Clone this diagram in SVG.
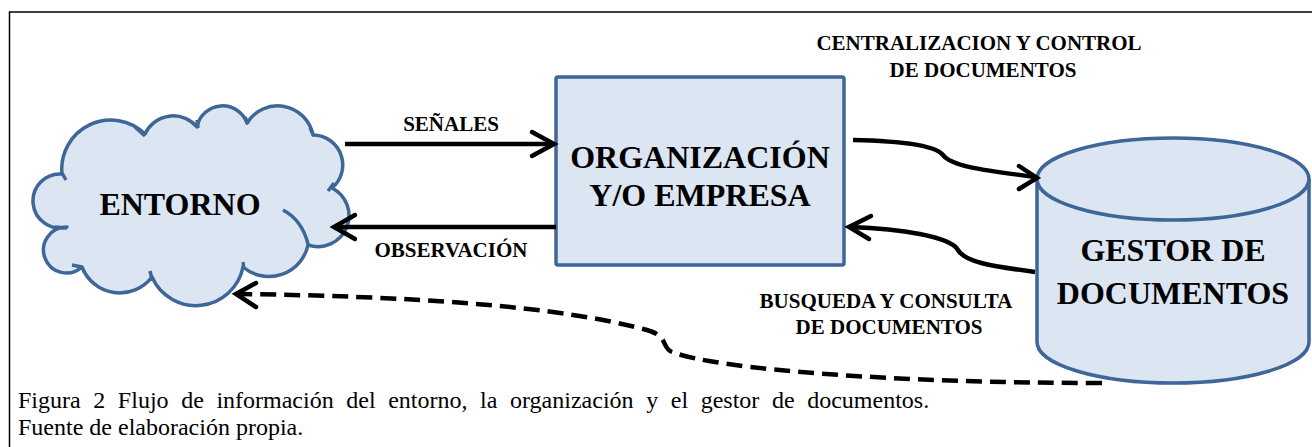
<svg xmlns="http://www.w3.org/2000/svg" width="1312" height="447" viewBox="0 0 1312 447">
<style>
.shape{fill:#dce6f2;stroke:#3e6698;stroke-width:3.5;stroke-linejoin:round}
.notch{fill:none;stroke:#3e6698;stroke-width:3.5;stroke-linecap:butt}
.conn{fill:none;stroke:#000;stroke-width:4.5;stroke-linecap:butt}
.head{fill:none;stroke:#000;stroke-width:4.5;stroke-linecap:round;stroke-linejoin:miter}
.dash{stroke-dasharray:16 8}
</style>
<rect x="0" y="0" width="1312" height="447" fill="#fff"/>
<path d="M9.5 447 V12 H1312" fill="none" stroke="#000" stroke-width="1.5"/>
<g id="entorno">
<path class="shape" d="M62 174 A49 49 0 0 1 145 134 A31 31 0 0 1 197 127 A26 26 0 0 1 247 123 A36 36 0 0 1 313 135 A30 30 0 0 1 332 188 A31 31 0 0 1 308 245 A40 40 0 0 1 243 267 A48 48 0 0 1 152 277 A40.5 40.5 0 0 1 82 267 A23 23 0 1 1 67 227 A27 27 0 1 1 62 174 Z"/>
<path class="notch" d="M62 173 L66 180 M135 127 L145 136 M197 120 L198 128 M245 117 L248 124 M310 128 L314 136 M328 191 L334 183 M283 210 Q302 220 308 244 M243 262 L244 270 M150 271 L152 279 M72 265 L82 267 M55 227 L67 228"/>
<text x="180" y="215" font-family="Liberation Serif, serif" font-weight="700" font-size="32" text-anchor="middle">ENTORNO</text>
</g>
<g id="organizacion">
<rect class="shape" x="556" y="77" width="288" height="188" rx="2"/>
<g font-family="Liberation Serif, serif" font-weight="700" font-size="32" text-anchor="middle">
<text x="700" y="168">ORGANIZACIÓN</text>
<text x="700" y="206">Y/O EMPRESA</text>
</g>
</g>
<g id="gestor">
<path class="shape" d="M1037 179 V342 A136 41 0 0 0 1309 342 V179"/>
<ellipse class="shape" cx="1173" cy="179" rx="136" ry="41"/>
<g font-family="Liberation Serif, serif" font-weight="700" font-size="32" text-anchor="middle">
<text x="1173" y="261">GESTOR DE</text>
<text x="1173" y="304">DOCUMENTOS</text>
</g>
</g>
<g id="connectors">
<path class="conn" d="M345 144 H553"/>
<path class="head" d="M532 132 L554 144 L532 156"/>
<path class="conn" d="M556 227 H335"/>
<path class="head" d="M355 215 L334 227 L355 239"/>
<path class="conn" d="M853 140 C900 141 935 145 943 155 C952 168 1000 172 1035 177"/>
<path class="head" d="M1019 166 L1037 178 L1019 189"/>
<path class="conn" d="M1035 272 C990 266 965 262 958 250 C950 236 900 229 850 227"/>
<path class="head" d="M871 216 L849 227 L869 239"/>
<path class="conn dash" d="M1102 383 C900 383 720 370 672 352 C662 348 668 337 650 331 C560 305 400 296 238 294"/>
<path class="head" d="M256 283 L236 294 L256 307"/>
</g>
<g id="labels" font-family="Liberation Serif, serif" font-weight="700" font-size="21" text-anchor="middle">
<text x="451" y="131">SEÑALES</text>
<text x="451" y="257">OBSERVACIÓN</text>
<text x="979" y="50">CENTRALIZACION Y CONTROL</text>
<text x="983" y="77">DE DOCUMENTOS</text>
<text x="886" y="308">BUSQUEDA Y CONSULTA</text>
<text x="889" y="334">DE DOCUMENTOS</text>
</g>
<g id="caption" font-family="Liberation Serif, serif" font-size="24">
<text x="18" y="408" word-spacing="6.6">Figura 2 Flujo de información del entorno, la organización y el gestor de documentos.</text>
<text x="18" y="435">Fuente de elaboración propia.</text>
</g>
</svg>
